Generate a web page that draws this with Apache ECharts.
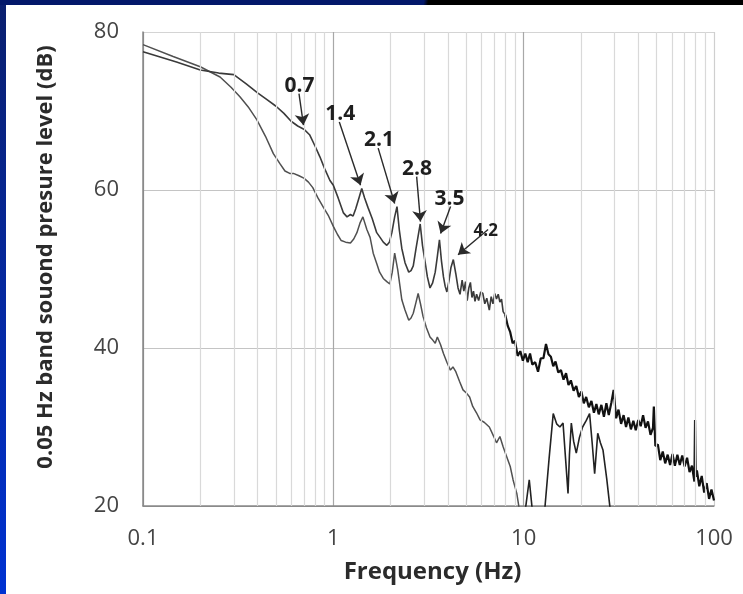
<!DOCTYPE html>
<html>
<head>
<meta charset="utf-8">
<script src="https://cdn.jsdelivr.net/npm/echarts@6/dist/echarts.min.js"></script>
<style>
  html, body { margin: 0; padding: 0; background: #fff; }
  #wrap { position: relative; width: 743px; height: 594px; overflow: hidden; }
  #chart { position: absolute; left: 0; top: 0; width: 743px; height: 594px; }
  .left-bar { position: absolute; left: 0; top: 0; width: 6px; height: 594px;
    background: linear-gradient(#0a1f6e, #0032d2); z-index: 2; }
  .top-bar { position: absolute; left: 0; top: 0; width: 743px; height: 5px;
    background: linear-gradient(100deg, #03186a 0, #03186a 57%, #000 57.6%, #000 100%); z-index: 2; }
</style>
</head>
<body>
<div id="wrap">
  <div class="left-bar"></div>
  <div class="top-bar"></div>
  <div id="chart"></div>
</div>
<script>
// x tick labels / minor grid positions
var xTicks = ['0.1', '1', '10', '100'];
var minorGrid = [0.2, 0.3, 0.4, 0.5, 0.6, 0.7, 0.8, 0.9,
                 2, 3, 4, 5, 6, 7, 8, 9,
                 20, 30, 40, 50, 60, 70, 80, 90];

// upper spectrum (harmonic peaks), [Hz, dB], up to 8 Hz
var specA = [
  [0.1, 77.5], [0.15, 76.2], [0.2, 75.2], [0.25, 74.8], [0.3, 74.6], [0.35, 73.4], [0.4, 72.3],
  [0.45, 71.4], [0.5, 70.6], [0.55, 69.7], [0.6, 68.7], [0.65, 68.1], [0.7, 67.7], [0.75, 67.0],
  [0.8, 65.6], [0.85, 64.2], [0.9, 62.7], [0.96, 61.2], [1.0, 60.6], [1.06, 59.0], [1.13, 57.1],
  [1.18, 56.6], [1.23, 56.9], [1.27, 56.7], [1.31, 57.6], [1.36, 58.9], [1.41, 60.2], [1.46, 59.0],
  [1.52, 57.8], [1.6, 56.4], [1.69, 54.6], [1.76, 54.0], [1.83, 53.4], [1.91, 53.0], [1.97, 53.4],
  [2.03, 54.6], [2.1, 56.6], [2.16, 57.9], [2.22, 55.0], [2.29, 52.6], [2.38, 50.8], [2.49, 49.6],
  [2.56, 49.8], [2.63, 50.4], [2.72, 52.6], [2.86, 55.7], [2.94, 53.0], [3.03, 51.0], [3.12, 49.0],
  [3.22, 47.6], [3.32, 48.2], [3.43, 49.6], [3.52, 51.6], [3.61, 53.7], [3.7, 51.0], [3.79, 49.0],
  [3.87, 47.8], [3.95, 47.1], [4.05, 48.5], [4.15, 50.2], [4.27, 51.2], [4.4, 49.4], [4.52, 47.6],
  [4.63, 46.8], [4.75, 48.6], [4.85, 47.2], [4.95, 48.4], [5.05, 46.0], [5.15, 47.6], [5.25, 48.3],
  [5.35, 46.4], [5.45, 47.2], [5.55, 45.9], [5.66, 46.8], [5.8, 46.0], [5.95, 47.1], [6.1, 46.9],
  [6.25, 45.6], [6.4, 46.3], [6.6, 44.8], [6.75, 46.5], [6.9, 45.6], [7.05, 46.9], [7.2, 46.2],
  [7.35, 46.8], [7.5, 45.8], [7.65, 46.2], [7.8, 44.6], [8.0, 44.2]
];
// upper spectrum, noisy part 8-100 Hz
var specANoise = [
  [8.0, 44.2], [8.25, 42.8], [8.5, 42.0], [8.75, 40.6], [9.0, 40.9], [9.3, 39.0], [9.6, 39.6],
  [9.9, 38.4], [10.2, 39.3], [10.5, 38.2], [10.8, 39.3], [11.1, 37.9], [11.5, 38.2], [11.9, 37.0],
  [12.3, 38.7], [12.7, 38.7], [13.1, 40.5], [13.5, 39.2], [13.9, 38.9], [14.3, 37.7], [14.7, 38.3],
  [15.2, 36.9], [15.7, 37.2], [16.2, 36.0], [16.7, 36.8], [17.2, 35.3], [17.7, 35.9], [18.3, 34.6],
  [18.9, 35.2], [19.5, 33.8], [20.1, 34.5], [20.7, 33.0], [21.3, 33.8], [22.0, 32.5], [22.7, 33.3],
  [23.4, 31.8], [24.1, 32.9], [24.8, 31.6], [25.6, 32.8], [26.4, 31.3], [27.2, 33.0], [28.0, 31.5],
  [28.9, 33.1], [29.7, 34.7], [30.6, 31.1], [31.5, 32.2], [32.5, 30.4], [33.5, 31.5], [34.5, 30.0],
  [35.5, 31.2], [36.6, 29.7], [37.7, 30.8], [38.8, 29.6], [40.0, 30.9], [41.2, 30.1], [42.4, 31.5],
  [43.7, 29.9], [45.0, 30.7], [46.4, 29.0], [47.8, 29.9], [48.3, 32.6], [49.2, 27.6], [50.7, 27.8],
  [52.2, 25.8], [53.8, 26.9], [55.4, 25.4], [57.1, 26.5], [58.8, 25.2], [60.5, 26.6], [62.3, 25.1],
  [64.2, 26.5], [66.1, 25.2], [68.1, 26.4], [70.1, 25.0], [72.2, 26.1], [74.4, 24.3], [76.6, 25.1],
  [78.9, 23.1], [79.5, 30.9], [80.2, 23.7], [81.3, 24.5], [83.7, 22.5], [86.2, 23.8], [88.8, 21.7],
  [91.5, 22.9], [94.2, 20.9], [97.0, 22.1], [100, 20.7]
];

// lower spectrum, main run
var specB = [
  [0.1, 78.4], [0.144, 76.9], [0.2, 75.6], [0.254, 74.3], [0.29, 73.0], [0.323, 71.8], [0.36, 70.4],
  [0.396, 68.9], [0.44, 66.8], [0.484, 64.6], [0.525, 63.3], [0.557, 62.4], [0.59, 62.1], [0.617, 62.1],
  [0.66, 61.8], [0.7, 61.5], [0.74, 61.0], [0.78, 60.3], [0.83, 59.0], [0.887, 57.8], [0.94, 56.8],
  [1.0, 55.4], [1.05, 54.4], [1.1, 53.6], [1.16, 53.4], [1.23, 53.3], [1.28, 53.8], [1.33, 54.6],
  [1.38, 55.8], [1.43, 56.6], [1.5, 55.0], [1.56, 54.0], [1.62, 52.0], [1.69, 50.7], [1.75, 49.6],
  [1.83, 48.8], [1.91, 48.4], [1.98, 48.1], [2.04, 49.6], [2.1, 52.0], [2.18, 49.9], [2.24, 47.8],
  [2.29, 46.1], [2.38, 44.8], [2.49, 43.5], [2.56, 43.8], [2.63, 44.4], [2.72, 45.8], [2.79, 46.9],
  [2.87, 45.6], [2.96, 44.0], [3.08, 42.6], [3.22, 41.4], [3.33, 41.0], [3.43, 40.6], [3.52, 41.4],
  [3.56, 41.6], [3.66, 40.4], [3.79, 39.3], [3.95, 38.2], [4.12, 37.2], [4.25, 37.6], [4.4, 37.0],
  [4.6, 35.8], [4.8, 34.7], [5.0, 34.3], [5.2, 33.8], [5.4, 32.6], [5.65, 31.8], [5.9, 30.9],
  [6.2, 30.6], [6.6, 30.0], [6.9, 29.0], [7.2, 28.0], [7.5, 28.8], [7.8, 27.5], [8.1, 26.4],
  [8.5, 25.0], [8.8, 23.3], [9.2, 21.6], [9.5, 19.5]
];
// lower spectrum, short pieces after it drops out
var specBBump = [[10.2, 19.5], [10.7, 23.3], [11.1, 19.5]];
var specBTail = [
  [12.9, 19.5], [13.6, 26.0], [14.3, 31.7], [14.9, 30.4], [15.5, 30.0], [16.1, 30.5], [16.6, 26.0],
  [17.1, 21.6], [17.4, 26.5], [17.8, 30.5], [18.3, 28.2], [18.9, 26.7], [19.6, 28.6], [20.4, 30.0],
  [21.3, 30.8], [22.2, 31.7], [22.9, 28.0], [23.6, 24.1], [24.5, 29.2], [25.3, 28.0], [26.1, 27.1],
  [27.3, 23.5], [28.5, 19.5]
];

// harmonic callouts: text, arrow tail, arrow head
var noteText = ['0.7', '1.4', '2.1', '2.8', '3.5', '4.2'];
var arrowFrom = [[0.66, 72.2], [1.075, 68.6], [1.72, 65.3], [2.74, 61.7], [4.13, 57.9], [6.5, 55.0]];
var arrowTo = [[0.697, 68.2], [1.39, 60.6], [2.10, 58.3], [2.87, 56.0], [3.66, 54.5], [4.52, 51.8]];

var myChart = echarts.init(document.getElementById('chart'));

var font = '"Open Sans", "DejaVu Sans", sans-serif';
var lineCommon = {
  type: 'line',
  showSymbol: false,
  symbol: 'none',
  silent: true,
  clip: true
};

option = {
  animation: false,
  backgroundColor: 'transparent',
  grid: { left: 143, right: 29, top: 32, bottom: 88 },
  xAxis: {
    type: 'log',
    logBase: 10,
    min: 0.1,
    max: 100,
    name: 'Frequency (Hz)',
    nameLocation: 'middle',
    nameGap: 54,
    nameTextStyle: { fontFamily: font, fontWeight: 'bold', fontSize: 24, color: '#2b2b2b', padding: [0, 0, 0, 8] },
    axisLine: { lineStyle: { color: '#8a8a8a', width: 1.5 } },
    axisTick: { show: false },
    axisLabel: {
      fontFamily: font, fontSize: 22, color: '#444', margin: 22,
      formatter: function (v) {
        var i = Math.round(Math.log10(v)) + 1;
        return xTicks[i] || '';
      }
    },
    splitLine: { show: true, lineStyle: { color: ['#8a8a8a', '#a8a8a8', '#a8a8a8', '#cfcfcf'], width: 1.2 } }
  },
  yAxis: {
    type: 'value',
    min: 20,
    max: 80,
    interval: 20,
    name: '0.05 Hz band souond presure level (dB)',
    nameLocation: 'middle',
    nameGap: 86,
    nameTextStyle: { fontFamily: font, fontWeight: 'bold', fontSize: 22, color: '#2b2b2b', padding: [0, 0, 0, 24] },
    axisLine: { show: true, lineStyle: { color: '#8a8a8a', width: 1.5 } },
    axisTick: { show: false },
    axisLabel: { fontFamily: font, fontSize: 22, color: '#444', margin: 24 },
    splitLine: { show: true, lineStyle: { color: ['#8a8a8a', '#c4c4c4', '#c4c4c4', '#d4d4d4'], width: 1.2 } }
  },
  series: [
    {
      type: 'line',
      data: [],
      silent: true,
      markLine: {
        silent: true,
        symbol: 'none',
        label: { show: false },
        lineStyle: { color: '#d9d9d9', type: 'solid', width: 1.2 },
        data: minorGrid.map(function (v) { return { xAxis: v }; })
      }
    },
    Object.assign({}, lineCommon, { data: specB, lineStyle: { color: '#505050', width: 1.5 } }),
    Object.assign({}, lineCommon, { data: specBBump, lineStyle: { color: '#222', width: 1.6 } }),
    Object.assign({}, lineCommon, { data: specBTail, lineStyle: { color: '#222', width: 1.6 } }),
    Object.assign({}, lineCommon, { data: specA, lineStyle: { color: '#3a3a3a', width: 1.6 } }),
    Object.assign({}, lineCommon, { data: specANoise, lineStyle: { color: '#111', width: 2.2 } }),
    {
      type: 'line',
      data: [],
      silent: true,
      markLine: {
        silent: true,
        symbol: ['none', 'arrow'],
        symbolSize: 11,
        itemStyle: { color: '#2a2a2a' },
        lineStyle: { color: '#2a2a2a', type: 'solid', width: 1.4 },
        data: arrowFrom.map(function (p, i) {
          var lab = {
            show: true,
            position: 'start',
            distance: -3,
            formatter: noteText[i],
            fontFamily: font,
            fontWeight: 'bold',
            fontSize: noteText[i] === '4.2' ? 17 : 21,
            color: '#1e1e1e'
          };
          return [{ coord: p, label: lab }, { coord: arrowTo[i], label: lab }];
        })
      }
    }
  ]
};

myChart.setOption(option);
window.addEventListener("resize", function () {
    myChart.resize();
});
</script>
</body>
</html>
